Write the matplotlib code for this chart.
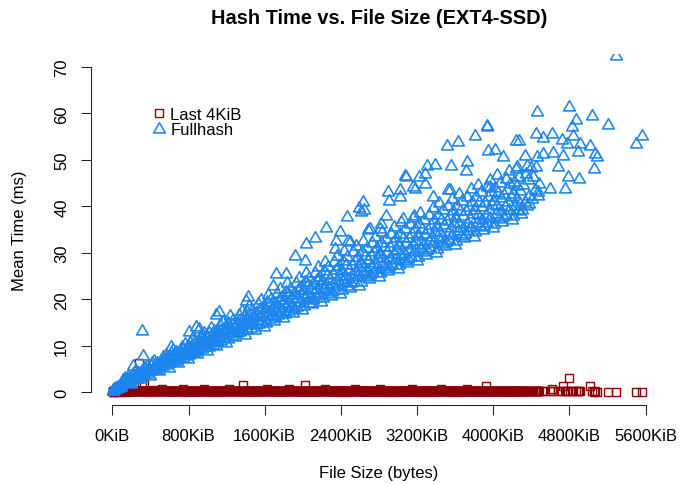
import matplotlib
matplotlib.use("Agg")
import matplotlib.pyplot as plt
from matplotlib.path import Path

plt.rcParams['font.family'] = ['Liberation Sans', 'DejaVu Sans']

# file size of every hashed file (KiB); both series were measured on the same files
file_kib = [
    # dense band
    2, 5, 8, 12, 15, 20, 25, 30, 36, 42, 48, 55, 62, 70, 78, 86, 94,
    104, 112, 120, 129, 137, 145, 154, 162, 170, 179, 187, 195,
    202, 210, 219, 227, 235, 244, 252, 260, 269, 277, 285, 293,
    304, 312, 320, 329, 337, 345, 354, 362, 370, 379, 387, 395,
    402, 410, 419, 427, 435, 444, 452, 460, 469, 477, 485, 493,
    504, 512, 520, 529, 537, 545, 554, 562, 570, 579, 587, 595,
    602, 610, 619, 627, 635, 644, 652, 660, 669, 677, 685, 693,
    704, 712, 720, 729, 737, 745, 754, 762, 770, 779, 787, 795,
    802, 810, 819, 827, 835, 844, 852, 860, 869, 877, 885, 893,
    904, 912, 920, 929, 937, 945, 954, 962, 970, 979, 987, 995,
    1002, 1010, 1019, 1027, 1035, 1044, 1052, 1060, 1069, 1077, 1085, 1093,
    1104, 1112, 1120, 1129, 1137, 1145, 1154, 1162, 1170, 1179, 1187, 1195,
    1202, 1210, 1219, 1227, 1235, 1244, 1252, 1260, 1269, 1277, 1285, 1293,
    1304, 1312, 1320, 1329, 1337, 1345, 1354, 1362, 1370, 1379, 1387, 1395,
    1402, 1410, 1419, 1427, 1435, 1444, 1452, 1460, 1469, 1477, 1485, 1493,
    1504, 1512, 1520, 1529, 1537, 1545, 1554, 1562, 1570, 1579, 1587, 1595,
    1602, 1610, 1619, 1627, 1635, 1644, 1652, 1660, 1669, 1677, 1685, 1693,
    1704, 1712, 1720, 1729, 1737, 1745, 1754, 1762, 1770, 1779, 1787, 1795,
    1802, 1810, 1819, 1827, 1835, 1844, 1852, 1860, 1869, 1877, 1885, 1893,
    1904, 1912, 1920, 1929, 1937, 1945, 1954, 1962, 1970, 1979, 1987, 1995,
    2002, 2010, 2019, 2027, 2035, 2044, 2052, 2060, 2069, 2077, 2085, 2093,
    2104, 2112, 2120, 2129, 2137, 2145, 2154, 2162, 2170, 2179, 2187, 2195,
    2202, 2210, 2219, 2227, 2235, 2244, 2252, 2260, 2269, 2277, 2285, 2293,
    2304, 2312, 2320, 2329, 2337, 2345, 2354, 2362, 2370, 2379, 2387, 2395,
    2402, 2410, 2419, 2427, 2435, 2444, 2452, 2460, 2469, 2477, 2485, 2493,
    2504, 2512, 2520, 2529, 2537, 2545, 2554, 2562, 2570, 2579, 2587, 2595,
    2602, 2610, 2619, 2627, 2635, 2644, 2652, 2660, 2669, 2677, 2685, 2693,
    2704, 2712, 2720, 2729, 2737, 2745, 2754, 2762, 2770, 2779, 2787, 2795,
    2802, 2810, 2819, 2827, 2835, 2844, 2852, 2860, 2869, 2877, 2885, 2893,
    2904, 2912, 2920, 2929, 2937, 2945, 2954, 2962, 2970, 2979, 2987, 2995,
    3002, 3010, 3019, 3027, 3035, 3044, 3052, 3060, 3069, 3077, 3085, 3093,
    3104, 3112, 3120, 3129, 3137, 3145, 3154, 3162, 3170, 3179, 3187, 3195,
    3202, 3210, 3219, 3227, 3235, 3244, 3252, 3260, 3269, 3277, 3285, 3293,
    3304, 3312, 3320, 3329, 3337, 3345, 3354, 3362, 3370, 3379, 3387, 3395,
    3402, 3410, 3419, 3427, 3435, 3444, 3452, 3460, 3469, 3477, 3485, 3493,
    3504, 3512, 3520, 3529, 3537, 3545, 3554, 3562, 3570, 3579, 3587, 3595,
    3602, 3610, 3619, 3627, 3635, 3644, 3652, 3660, 3669, 3677, 3685, 3693,
    3704, 3712, 3720, 3729, 3737, 3745, 3754, 3762, 3770, 3779, 3787, 3795,
    3802, 3810, 3819, 3827, 3835, 3844, 3852, 3860, 3869, 3877, 3885, 3893,
    3904, 3912, 3920, 3929, 3937, 3945, 3954, 3962, 3970, 3979, 3987, 3995,
    4002, 4010, 4019, 4027, 4035, 4044, 4052, 4060, 4069, 4077, 4085, 4093,
    4104, 4112, 4120, 4129, 4137, 4145, 4154, 4162, 4170, 4179, 4187, 4195,
    4202, 4210, 4219, 4227, 4235, 4244, 4252, 4260, 4269, 4277, 4285, 4293,
    4304, 4316, 4329, 4341, 4354, 4366, 4379, 4391,
    4405, 4420, 4436, 4452, 4468, 4484,
    # slow files above the band
    214, 312, 319, 617, 810, 880, 915, 1090, 1125, 1406,
    1423, 1685, 1721, 1826, 1914, 2019, 2037, 2124, 2247, 2334,
    2345, 2394, 2464, 2474, 2492, 2590, 2615, 2632, 2640, 2684,
    2702, 2807, 2825, 2878, 2895, 2900, 3018, 3025, 3053, 3070,
    3088, 3158, 3165, 3175, 3221, 3281, 3288, 3299, 3368, 3386,
    3509, 3526, 3544, 3554, 3631, 3712, 3719, 3806, 3929, 3935,
    3940, 3964, 4017, 4104, 4238, 4265, 4245, 4332, 4350, 4378,
    # largest files
    4445, 4455, 4462, 4472, 4518, 4525, 4595, 4613, 4630, 4682,
    4718, 4729, 4753, 4777, 4788, 4795, 4830, 4841, 4865, 4887,
    4903, 4910, 5016, 5040, 5058, 5068, 5086, 5208, 5286, 5496,
    5566,
]

fullhash_ms = [
    0.2, 0.3, 0.5, 0.3, 0.6, 0.4, 0.7, 0.6, 0.9, 0.7, 1.0, 0.9, 1.2, 1.0, 1.3, 1.2, 1.6,
    1.9, 2.6, 2.2, 3.0, 2.0, 2.7, 2.3, 3.2, 2.1, 2.9, 2.5, 1.8,
    3.5, 2.7, 4.0, 3.1, 4.4, 3.3, 3.8, 2.9, 4.1, 3.2, 3.6, 2.8,
    3.7, 4.6, 4.1, 5.3, 3.8, 4.9, 4.3, 5.6, 4.0, 5.1, 4.5, 3.6,
    5.6, 4.5, 6.2, 5.0, 6.8, 5.3, 5.9, 4.7, 6.4, 5.1, 5.7, 4.6,
    5.5, 6.7, 6.0, 7.6, 5.6, 7.0, 6.3, 8.0, 5.9, 7.3, 6.6, 5.3,
    7.6, 6.2, 8.4, 6.8, 9.2, 7.3, 8.1, 6.5, 8.7, 7.0, 7.8, 6.4,
    7.3, 8.8, 8.0, 9.8, 7.4, 9.1, 8.3, 10.3, 7.8, 9.5, 8.6, 7.1,
    9.7, 8.0, 10.6, 8.7, 11.5, 9.3, 10.2, 8.4, 11.0, 8.9, 9.8, 8.2,
    9.1, 10.9, 9.9, 12.1, 9.3, 11.3, 10.3, 12.7, 9.7, 11.7, 10.7, 8.9,
    11.7, 9.7, 12.8, 10.6, 13.9, 11.3, 12.4, 10.2, 13.2, 10.8, 11.9, 10.0,
    10.9, 13.0, 11.8, 14.4, 11.1, 13.4, 12.3, 15.1, 11.6, 13.9, 12.7, 10.6,
    13.8, 11.5, 15.0, 12.5, 16.3, 13.3, 14.5, 12.0, 15.5, 12.8, 14.0, 11.8,
    12.7, 15.0, 13.7, 16.6, 12.9, 15.6, 14.2, 17.4, 13.4, 16.1, 14.8, 12.4,
    15.8, 13.3, 17.2, 14.4, 18.6, 15.2, 16.6, 13.8, 17.8, 14.7, 16.1, 13.5,
    14.4, 17.1, 15.6, 18.9, 14.7, 17.7, 16.2, 19.8, 15.3, 18.3, 16.8, 14.1,
    17.9, 15.0, 19.4, 16.3, 21.0, 17.2, 18.8, 15.7, 20.0, 16.6, 18.2, 15.3,
    16.2, 19.2, 17.6, 21.2, 16.6, 19.9, 18.2, 22.2, 17.2, 20.5, 18.9, 15.9,
    19.9, 16.8, 21.6, 18.2, 23.4, 19.2, 20.9, 17.5, 22.3, 18.5, 20.2, 17.1,
    18.0, 21.3, 19.5, 23.5, 18.4, 22.0, 20.2, 24.5, 19.1, 22.7, 20.9, 17.7,
    21.9, 18.5, 23.8, 20.1, 25.7, 21.2, 23.1, 19.3, 24.6, 20.4, 22.3, 18.9,
    19.8, 23.4, 21.4, 25.7, 20.2, 24.2, 22.2, 26.9, 21.0, 24.9, 23.0, 19.4,
    24.0, 20.3, 26.0, 21.9, 28.1, 23.2, 25.2, 21.1, 26.9, 22.4, 24.4, 20.7,
    21.6, 25.4, 23.3, 28.0, 22.0, 26.3, 24.2, 29.3, 22.9, 27.1, 25.0, 21.2,
    26.0, 22.1, 28.2, 23.8, 30.4, 25.1, 27.3, 22.9, 29.1, 24.3, 26.4, 22.5,
    23.4, 27.4, 25.2, 30.1, 23.8, 28.3, 26.1, 31.4, 24.7, 29.2, 27.0, 22.9,
    27.9, 23.8, 30.2, 25.6, 32.5, 27.0, 29.3, 24.7, 31.1, 26.1, 28.4, 24.3,
    25.2, 29.3, 27.0, 32.1, 25.6, 30.2, 27.9, 33.4, 26.5, 31.1, 28.8, 24.7,
    29.8, 25.6, 32.1, 27.4, 34.4, 28.8, 31.2, 26.5, 33.0, 27.9, 30.2, 26.1,
    26.9, 31.2, 28.8, 34.1, 27.4, 32.2, 29.8, 35.5, 28.4, 33.1, 30.7, 26.5,
    31.7, 27.3, 34.1, 29.3, 36.6, 30.7, 33.2, 28.3, 35.1, 29.8, 32.2, 27.8,
    28.7, 33.1, 30.7, 36.1, 29.2, 34.1, 31.7, 37.5, 30.2, 35.1, 32.6, 28.2,
    33.6, 29.1, 36.1, 31.1, 38.6, 32.6, 35.1, 30.1, 37.1, 31.6, 34.1, 29.6,
    30.5, 35.0, 32.5, 38.1, 31.0, 36.0, 33.5, 39.6, 32.0, 37.1, 34.5, 30.0,
    35.5, 30.9, 38.1, 32.9, 40.7, 34.5, 37.0, 31.9, 39.1, 33.4, 36.0, 31.4,
    32.3, 36.9, 34.3, 40.1, 32.8, 38.0, 35.4, 41.6, 33.8, 39.0, 36.4, 31.7,
    37.4, 32.6, 40.0, 34.7, 42.7, 36.3, 39.0, 33.7, 41.1, 35.3, 37.9, 33.2,
    34.0, 38.9, 36.2, 42.1, 34.6, 39.9, 37.3, 43.7, 35.6, 41.0, 38.3, 33.5,
    39.2, 34.4, 41.9, 36.5, 44.6, 38.2, 40.9, 35.5, 43.0, 37.1, 39.8, 34.9,
    35.8, 40.8, 38.0, 44.1, 36.4, 41.9, 39.1, 45.7, 37.5, 43.0, 40.2, 35.3,
    41.2, 36.1, 44.0, 38.4, 46.8, 40.1, 42.9, 37.3, 45.1, 38.9, 41.7, 36.7,
    37.6, 42.5, 39.8, 45.8, 38.1, 43.6, 40.9, 47.5, 39.2, 44.7, 42.0, 37.0,
    42.7, 37.9, 45.3, 40.0, 48.0, 41.6, 44.3, 39.0, 46.4, 40.6, 43.2, 38.4,
    39.2, 44.5, 41.0, 47.0, 40.1, 45.6, 42.3, 48.2,
    41.5, 46.2, 43.4, 48.5, 42.2, 44.8,
    5.6, 13.2, 7.9, 9.7, 12.9, 14.0, 13.6, 16.6, 17.3, 19.7,
    20.6, 22.9, 25.4, 25.4, 29.4, 28.3, 31.9, 33.1, 35.3, 30.8,
    32.6, 34.5, 37.6, 32.6, 32.3, 39.6, 38.8, 40.9, 39.1, 34.8,
    35.1, 35.1, 36.2, 38.0, 43.0, 41.2, 41.9, 43.4, 37.3, 46.6,
    46.2, 44.1, 38.0, 43.7, 46.2, 46.9, 44.8, 48.7, 41.9, 48.9,
    53.0, 43.4, 43.4, 48.6, 53.8, 47.7, 49.5, 55.1, 57.0, 57.3,
    52.0, 44.1, 52.2, 50.5, 54.1, 54.1, 48.4, 50.8, 48.7, 40.5,
    55.5, 50.5, 60.3, 43.0, 54.7, 51.2, 43.7, 55.5, 51.5, 48.4,
    54.3, 50.9, 43.7, 53.4, 46.2, 61.3, 57.1, 55.1, 58.6, 51.6,
    45.9, 53.5, 53.0, 59.4, 48.0, 51.2, 50.5, 57.5, 72.4, 53.5,
    55.1,
]

last4k_ms = [
    0.1, 0.2, 0.1, 0.2, 0.3, 0.2, 0.2, 0.3, 0.2, 0.2, 0.1, 0.2, 0.3, 0.2, 0.2, 0.3, 0.2,
    0.2, 0.3, 0.2, 0.1, 0.3, 0.2, 0.4, 0.2, 0.2, 0.3, 0.2, 0.2,
    0.2, 0.3, 0.2, 0.2, 0.3, 0.2, 0.2, 0.3, 0.2, 0.2, 6.4, 0.3,
    0.3, 2.1, 0.2, 1.8, 0.2, 0.3, 0.2, 0.2, 0.3, 0.2, 0.2, 0.3,
    0.2, 0.3, 0.2, 0.2, 0.4, 0.3, 0.2, 0.2, 0.3, 0.2, 0.2, 0.2,
    0.3, 0.2, 0.6, 0.2, 0.3, 0.2, 0.2, 0.3, 0.2, 0.2, 0.3, 0.2,
    0.2, 0.2, 0.3, 0.2, 0.2, 0.3, 0.2, 0.2, 0.2, 0.3, 0.2, 0.2,
    0.3, 0.2, 0.2, 0.3, 0.6, 0.2, 0.2, 0.3, 0.2, 0.2, 0.2, 0.3,
    0.2, 0.3, 0.2, 0.2, 0.3, 0.2, 0.2, 0.2, 0.3, 0.2, 0.2, 0.2,
    0.2, 0.2, 0.3, 0.2, 0.2, 0.3, 0.2, 0.6, 0.2, 0.2, 0.3, 0.2,
    0.2, 0.3, 0.2, 0.2, 0.3, 0.2, 0.2, 0.3, 0.2, 0.2, 0.2, 0.3,
    0.2, 0.2, 0.3, 0.2, 0.2, 0.2, 0.3, 0.2, 0.2, 0.3, 0.2, 0.2,
    0.3, 0.2, 0.2, 0.6, 0.2, 0.3, 0.2, 0.2, 0.3, 0.2, 0.2, 0.2,
    0.2, 0.2, 0.3, 0.2, 0.2, 0.2, 0.3, 0.2, 1.6, 0.3, 0.2, 0.2,
    0.2, 0.3, 0.2, 0.2, 0.3, 0.2, 0.2, 0.2, 0.2, 0.3, 0.2, 0.2,
    0.3, 0.2, 0.2, 0.3, 0.2, 0.2, 0.3, 0.2, 0.2, 0.2, 0.3, 0.2,
    0.2, 0.2, 0.6, 0.2, 0.3, 0.2, 0.2, 0.3, 0.2, 0.2, 0.2, 0.3,
    0.2, 0.3, 0.2, 0.2, 0.2, 0.3, 0.2, 0.2, 0.3, 0.2, 0.2, 0.2,
    0.3, 0.2, 0.2, 0.2, 0.3, 0.2, 0.2, 0.6, 0.2, 0.2, 0.3, 0.2,
    0.2, 0.2, 0.3, 0.2, 0.2, 0.3, 0.2, 0.2, 0.2, 0.3, 0.2, 0.2,
    0.2, 0.3, 0.2, 1.6, 0.2, 0.2, 0.3, 0.2, 0.2, 0.2, 0.3, 0.2,
    0.3, 0.2, 0.2, 0.3, 0.2, 0.2, 0.2, 0.3, 0.2, 0.2, 0.2, 0.3,
    0.2, 0.2, 0.3, 0.2, 0.6, 0.2, 0.2, 0.2, 0.3, 0.2, 0.2, 0.2,
    0.2, 0.3, 0.2, 0.2, 0.2, 0.3, 0.2, 0.2, 0.2, 0.3, 0.2, 0.2,
    0.3, 0.2, 0.2, 0.3, 0.2, 0.2, 0.3, 0.2, 0.2, 0.2, 0.3, 0.2,
    0.2, 0.2, 0.3, 0.2, 0.2, 0.6, 0.2, 0.3, 0.2, 0.2, 0.2, 0.3,
    0.2, 0.3, 0.2, 0.2, 0.3, 0.2, 0.2, 0.2, 0.2, 0.3, 0.2, 0.2,
    0.3, 0.2, 0.2, 0.2, 0.2, 0.3, 0.2, 0.2, 0.3, 0.2, 0.2, 0.2,
    0.2, 0.6, 0.2, 0.3, 0.2, 0.2, 0.2, 0.3, 0.2, 0.2, 0.3, 0.2,
    0.2, 0.2, 0.3, 0.2, 0.2, 0.3, 0.2, 0.2, 0.2, 0.3, 0.2, 0.2,
    0.3, 0.2, 0.2, 0.2, 0.3, 0.2, 0.2, 0.2, 0.3, 0.2, 0.2, 0.3,
    0.2, 0.2, 0.2, 0.3, 0.2, 0.6, 0.2, 0.3, 0.2, 0.2, 0.2, 0.2,
    0.2, 0.3, 0.2, 0.2, 0.2, 0.3, 0.2, 0.2, 0.3, 0.2, 0.2, 0.2,
    0.3, 0.2, 0.2, 0.2, 0.3, 0.2, 0.2, 0.2, 0.2, 0.3, 0.2, 0.2,
    0.2, 0.2, 0.3, 0.2, 0.2, 0.2, 0.6, 0.2, 0.2, 0.3, 0.2, 0.2,
    0.2, 0.3, 0.2, 0.2, 0.3, 0.2, 0.2, 0.2, 0.3, 0.2, 0.2, 0.2,
    0.3, 0.2, 0.2, 0.3, 0.2, 0.2, 0.2, 0.3, 0.2, 0.2, 0.3, 0.2,
    0.2, 0.2, 0.6, 0.2, 0.2, 0.3, 0.2, 0.2, 0.2, 0.3, 0.2, 0.2,
    0.2, 0.3, 0.2, 0.2, 0.3, 0.2, 0.2, 0.2, 0.2, 0.2, 0.3, 0.2,
    0.3, 0.2, 1.4, 0.2, 0.2, 0.2, 0.3, 0.2, 0.2, 0.3, 0.2, 0.2,
    0.2, 0.2, 0.3, 0.2, 0.2, 0.3, 0.2, 0.2, 0.3, 0.2, 0.2, 0.2,
    0.2, 0.3, 0.2, 0.2, 0.2, 0.2, 0.3, 0.2, 0.2, 0.2, 0.3, 0.2,
    0.3, 0.2, 0.2, 0.2, 0.3, 0.2, 0.2, 0.2, 0.2, 0.3, 0.2, 0.2,
    0.2, 0.2, 0.3, 0.2, 0.2, 0.2, 0.3, 0.2,
    0.2, 0.3, 0.2, 0.2, 0.2, 0.2,
    0.2, 0.3, 0.2, 0.2, 0.3, 0.2, 0.2, 0.3, 0.2, 0.2,
    0.3, 0.2, 0.2, 0.3, 0.2, 0.2, 0.3, 0.2, 0.2, 0.2,
    0.3, 0.2, 0.2, 0.2, 0.3, 0.2, 0.2, 0.2, 0.3, 0.2,
    0.2, 0.3, 0.2, 0.2, 0.2, 0.3, 0.2, 0.2, 0.3, 0.2,
    0.2, 0.2, 0.3, 0.2, 0.2, 0.3, 0.2, 0.2, 0.2, 0.3,
    0.2, 0.2, 0.3, 0.2, 0.2, 0.2, 0.3, 0.2, 0.2, 0.2,
    0.3, 0.2, 0.2, 0.2, 0.3, 0.2, 0.2, 0.2, 0.3, 0.2,
    0.2, 0.3, 0.2, 0.2, 0.2, 0.2, 0.2, 0.6, 0.2, 0.2,
    0.2, 1.3, 0.2, 0.2, 0.2, 3.0, 0.2, 0.2, 0.2, 0.2,
    0.2, 0.2, 1.4, 0.2, 0.1, 0.2, 0.1, 0.1, 0.1, 0.1,
    0.1,
]

x_ticks = [0, 800, 1600, 2400, 3200, 4000, 4800, 5600]
x_labels = [f"{t}KiB" for t in x_ticks]
y_ticks = [0, 10, 20, 30, 40, 50, 60, 70]

red = "#8B0000"
blue = "#1C86EE"

# R style open triangle (pch = 2)
tri = Path([(-1, -0.577), (1, -0.577), (0, 1.155), (-1, -0.577)],
           [Path.MOVETO, Path.LINETO, Path.LINETO, Path.CLOSEPOLY])

fig = plt.figure(figsize=(6.89, 4.85), dpi=100)
ax = fig.add_axes([91 / 689, 1 - 406.3 / 485, 576 / 689, 351.5 / 485])

ax.plot(file_kib, last4k_ms, linestyle="none", marker="s", ms=6.3,
        mfc="none", mec=red, mew=1.0, label="Last 4KiB")
ax.plot(file_kib, fullhash_ms, linestyle="none", marker=tri, ms=9.8,
        mfc="none", mec=blue, mew=1.15, label="Fullhash")

ax.set_xlim(-224, 5824)
ax.set_ylim(-2.8, 72.8)

for s in ["top", "right"]:
    ax.spines[s].set_visible(False)
ax.spines["left"].set_bounds(0, 70)
ax.spines["bottom"].set_bounds(0, 5600)
for s in ["left", "bottom"]:
    ax.spines[s].set_linewidth(0.75)
    ax.spines[s].set_color("#222222")

ax.set_xticks(x_ticks)
ax.set_xticklabels(x_labels)
ax.set_yticks(y_ticks)
ax.set_yticklabels([str(t) for t in y_ticks], rotation=90, va="center")
ax.tick_params(axis="both", length=7.2, width=0.75, color="#222222", labelsize=12)
ax.tick_params(axis="x", pad=9.5)
ax.tick_params(axis="y", pad=8.5)

ax.legend(loc="upper left", bbox_to_anchor=(151 / 689, 1 - 107.5 / 485),
          bbox_transform=fig.transFigure, frameon=False, borderpad=0,
          borderaxespad=0, handlelength=1.0, handletextpad=0.15,
          labelspacing=0.05, fontsize=12, numpoints=1)

fig.text(379 / 689, 1 - 18 / 485, "Hash Time vs. File Size (EXT4-SSD)",
         ha="center", va="center", fontsize=14.4, fontweight="bold")
fig.text(379 / 689, 1 - 474 / 485, "File Size (bytes)",
         ha="center", va="center", fontsize=12)
fig.text(20 / 689, 1 - 230.5 / 485, "Mean Time (ms)",
         ha="center", va="center", fontsize=12, rotation=90)

fig.savefig("out.png", dpi=100)
